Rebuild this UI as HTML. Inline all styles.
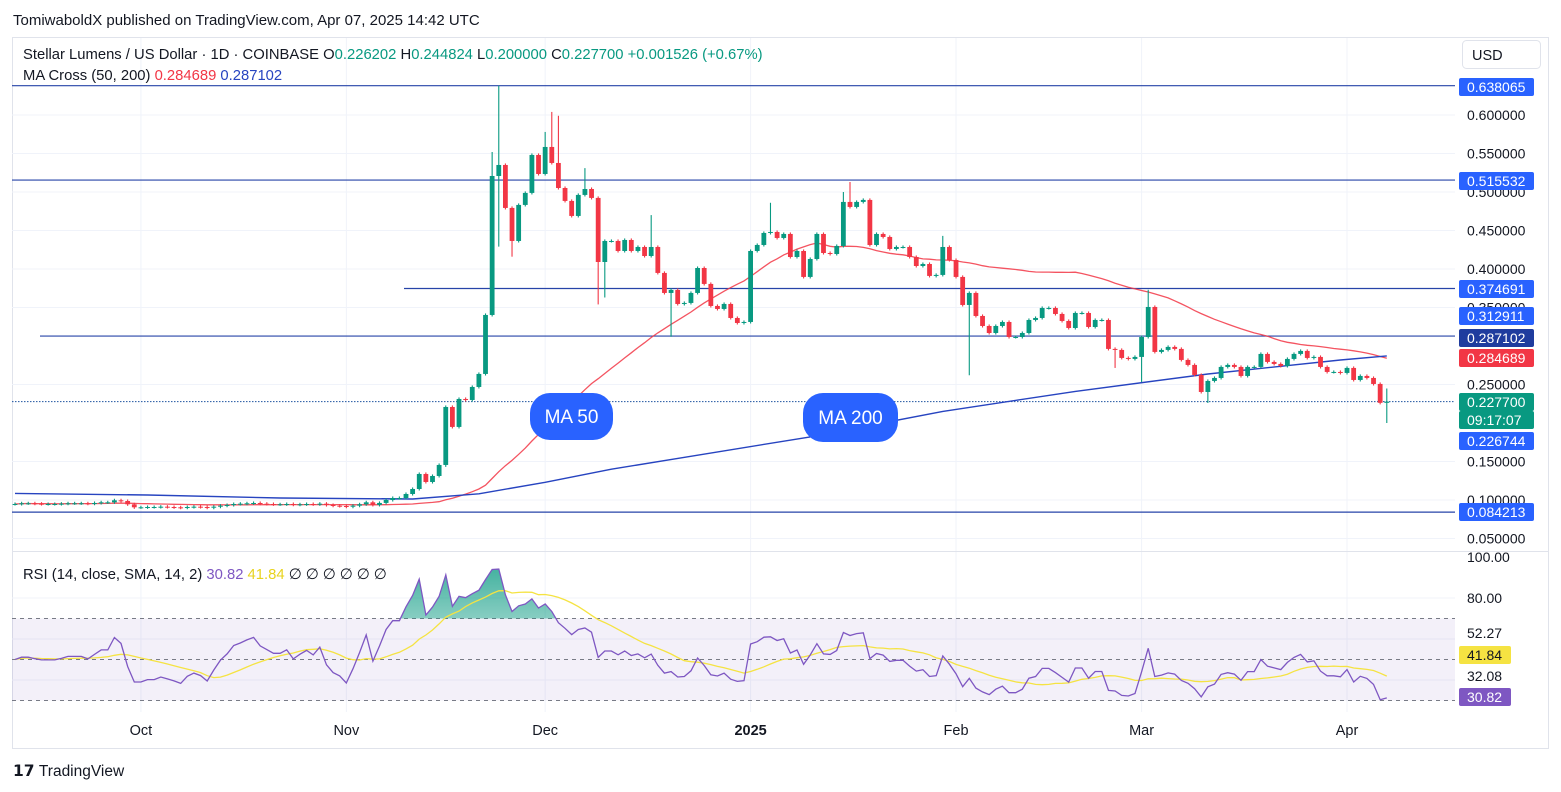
<!DOCTYPE html>
<html><head><meta charset="utf-8">
<style>
body{margin:0;background:#fff;font-family:"Liberation Sans",sans-serif;}
svg{display:block}
</style></head>
<body>
<svg id="c" width="1561" height="792" xmlns="http://www.w3.org/2000/svg" font-family="Liberation Sans, sans-serif">
<rect x="0" y="0" width="1561" height="792" fill="#fff"/>
<text x="13" y="25" font-size="15" fill="#131722">TomiwaboldX published on TradingView.com, Apr 07, 2025 14:42 UTC</text>
<rect x="12.5" y="37.5" width="1536" height="711" fill="none" stroke="#e0e3eb"/>
<g id="grid"></g>
<g id="hlines"></g>
<g id="mas"></g>
<g id="candles"></g>
<g id="rsi"></g>
<g id="axis"></g>
<g id="xaxis"></g>
<line x1="12" y1="551.5" x2="1548" y2="551.5" stroke="#e0e3eb"/>
<text x="23" y="59" font-size="14.8" fill="#131722">Stellar Lumens / US Dollar · 1D · COINBASE  <tspan>O</tspan><tspan fill="#089981">0.226202</tspan>  H<tspan fill="#089981">0.244824</tspan>  L<tspan fill="#089981">0.200000</tspan>  C<tspan fill="#089981">0.227700</tspan> <tspan fill="#089981">+0.001526 (+0.67%)</tspan></text>
<text x="23" y="80" font-size="14.8" fill="#131722">MA Cross (50, 200)  <tspan fill="#f23645">0.284689</tspan>  <tspan fill="#2744c0">0.287102</tspan></text>
<text x="23" y="579" font-size="14.8" fill="#131722">RSI (14, close, SMA, 14, 2)  <tspan fill="#7e57c2">30.82</tspan>  <tspan fill="#e8d31e">41.84</tspan>  ∅  ∅  ∅  ∅  ∅  ∅</text>
<rect x="1462.5" y="40.5" width="78" height="28" rx="4" fill="#fff" stroke="#e0e3eb"/>
<text x="1472" y="60" font-size="14.5" fill="#131722">USD</text>
<g>
<rect x="530" y="393" width="83" height="47" rx="20" fill="#2962ff"/>
<text x="571.5" y="423" font-size="19" fill="#fff" text-anchor="middle">MA 50</text></g>
<g>
<rect x="803" y="393" width="95" height="49" rx="20" fill="#2962ff"/>
<text x="850.5" y="424" font-size="19" fill="#fff" text-anchor="middle">MA 200</text></g>
<text x="13" y="776" font-size="15.5" font-weight="bold" fill="#131722">𝟭𝟳 <tspan font-weight="normal">TradingView</tspan></text>
</svg>
<script>
const closes=[0.0948,0.0957,0.0957,0.0952,0.0948,0.0948,0.0948,0.0952,0.0957,0.0957,0.0957,0.0952,0.0961,0.0970,0.0970,0.0996,0.0987,0.0944,0.0905,0.0905,0.0909,0.0909,0.0913,0.0909,0.0905,0.0900,0.0909,0.0913,0.0909,0.0900,0.0913,0.0926,0.0935,0.0948,0.0952,0.0957,0.0961,0.0952,0.0948,0.0944,0.0944,0.0948,0.0939,0.0944,0.0948,0.0944,0.0952,0.0935,0.0926,0.0922,0.0913,0.0926,0.0944,0.0970,
0.0936,0.0962,0.1000,0.1026,0.1026,0.1078,0.1143,0.1338,0.1234,0.1312,0.1455,0.2208,0.1949,0.2312,0.2299,0.2468,0.2637,0.3403,0.5208,0.5351,0.4793,0.4364,0.4832,0.4988,0.5481,0.5234,0.5585,0.5377,0.5052,0.4884,0.4689,0.4962,0.5039,0.4923,0.4091,0.4364,0.4364,0.4234,0.4377,
0.4234,0.4286,0.4169,0.4286,0.3949,0.3689,0.3728,0.3546,0.3559,0.3689,0.4013,0.3806,0.3520,0.3481,0.3546,0.3364,0.3299,0.3312,0.4234,0.4312,0.4468,0.4481,0.4403,0.4455,0.4156,0.4234,0.3897,0.4130,0.4455,0.4208,0.4195,0.4299,0.4871,0.4806,0.4871,0.4897,0.4312,0.4455,0.4416,0.4260,0.4286,0.4286,0.4156,0.4039,0.4065,0.3910,0.3923,0.4286,0.4117,0.3897,0.3533,0.3689,0.3390,0.3260,0.3169,
0.3260,0.3312,0.3117,0.3117,0.3169,0.3338,0.3364,0.3494,0.3494,0.3416,0.3325,0.3234,0.3429,0.3429,0.3247,0.3338,0.3338,0.2962,0.2949,0.2845,0.2832,0.2858,0.3117,0.3507,0.2923,0.2949,0.2988,0.2962,0.2819,0.2754,0.2624,0.2403,0.2546,0.2585,0.2728,0.2754,0.2728,0.2611,0.2728,0.2728,0.2897,0.2793,0.2767,0.2741,0.2832,0.2897,0.2936,0.2845,0.2858,0.2728,0.2663,0.2663,0.2650,0.2715,0.2559,0.2611,0.2585,0.2507,0.2262,0.2277];
const highIdx=[72,73,80,81,82,86,96,114,125,126,140,171,207];
const highVals=[0.552,0.638,0.578,0.604,0.599,0.531,0.470,0.486,0.500,0.513,0.443,0.373,0.2448];
const lowIdx=[65,73,75,88,89,99,144,166,170,180,207];
const lowVals=[0.143,0.429,0.416,0.354,0.363,0.312,0.262,0.2715,0.2533,0.226,0.200];
const ma200Idx=[0,20,40,60,70,80,90,100,120,140,160,180,200,207];
const ma200Vals=[0.1086,0.1065,0.1026,0.1013,0.108,0.1230,0.140,0.154,0.182,0.2150,0.2410,0.2637,0.2818,0.2871];
const priceTicks=[0.6,0.55,0.5,0.45,0.4,0.35,0.25,0.15,0.1,0.05];
const dateLabels=["Oct","Nov","Dec","2025","Feb","Mar","Apr"];
const dateIdx=[19,50,80,111,142,170,201];
const hLevels=[0.638065,0.515532,0.374691,0.312911,0.084213];
const hStartX=[12,12,404,40,12];
const rsiLevels=[70,50,30];

const NS="http://www.w3.org/2000/svg";
const X=i=>15+i*6.627;
const Y=p=>115+(0.6-p)*770;
const YR=v=>557+(100-v)*2.05;
function mk(tag,attrs,parent){const e=document.createElementNS(NS,tag);for(const k in attrs)e.setAttribute(k,attrs[k]);parent.appendChild(e);return e;}
const G=id=>document.getElementById(id);

const grid=G('grid');
priceTicks.forEach(p=>{const l=mk('line',{x1:12,x2:1455,y1:Y(p),y2:Y(p),stroke:'#f0f3fa'},grid);

});
[80,60,40].forEach(v=>{const l=mk('line',{x1:12,x2:1455,y1:YR(v),y2:YR(v),stroke:'#f0f3fa'},grid);

});
dateIdx.forEach(i=>{const l=mk('line',{x1:X(i),x2:X(i),y1:38,y2:712,stroke:'#f0f3fa'},grid);

});

const hl=G('hlines');
hLevels.forEach((p,k)=>{const l=mk('line',{x1:hStartX[k],x2:1455,y1:Y(p),y2:Y(p),stroke:'#2744a8','stroke-width':1.2},hl);

});
const last=closes[closes.length-1];
const cl=mk('line',{x1:12,x2:1455,y1:Y(last),y2:Y(last),stroke:'#1e53a0','stroke-dasharray':'1.5 1.5'},hl);



const mas=G('mas');
let p50=[];
for(let i=0;i<closes.length;i++){const s=Math.max(0,i-49);let sum=0;for(let j=s;j<=i;j++)sum+=closes[j];p50.push(X(i).toFixed(1)+','+Y(sum/(i-s+1)).toFixed(1));}
const m50=mk('polyline',{points:p50.join(' '),fill:'none',stroke:'#f23645','stroke-width':1.3,'stroke-opacity':0.85},mas);


const p200=ma200Idx.map((i,k)=>X(i).toFixed(1)+','+Y(ma200Vals[k]).toFixed(1));
const m200=mk('polyline',{points:p200.join(' '),fill:'none',stroke:'#2744c0','stroke-width':1.4,'stroke-linejoin':'round'},mas);



const cg=G('candles');
for(let i=0;i<closes.length;i++){
 const o=i?closes[i-1]:closes[0], c=closes[i];
 let h=Math.max(o,c)+0.002, l=Math.min(o,c)-0.002;
 const hi=highIdx.indexOf(i); if(hi>=0)h=highVals[hi];
 const li=lowIdx.indexOf(i); if(li>=0)l=lowVals[li];
 if(i===207){h=0.244824;l=0.2;}
 const col=c>=o?'#089981':'#f23645';
 const g=mk('g',{},cg);
 
 
 mk('line',{x1:X(i),x2:X(i),y1:Y(h),y2:Y(l),stroke:col,'stroke-width':1.1},g);
 const yt=Y(Math.max(o,c)),yb=Y(Math.min(o,c));
 mk('rect',{x:X(i)-2.4,y:yt,width:4.8,height:Math.max(1,yb-yt),fill:col},g);
}

const rg=G('rsi');
const band=mk('rect',{x:12,y:YR(70),width:1443,height:YR(30)-YR(70),fill:'#7e57c2','fill-opacity':0.09},rg);


rsiLevels.forEach(v=>{const l=mk('line',{x1:12,x2:1455,y1:YR(v),y2:YR(v),stroke:'#787b86','stroke-dasharray':'4 4'},rg);

});
let ag=0.0015,al=0.0015,rsi=[50];
for(let i=1;i<closes.length;i++){const d=closes[i]-closes[i-1];ag=(ag*13+Math.max(d,0))/14;al=(al*13+Math.max(-d,0))/14;rsi.push(100-100/(1+ag/al));}
const rpts=rsi.map((v,i)=>X(i).toFixed(1)+','+YR(v).toFixed(1));
const defs=mk('defs',{},rg);
const gr=mk('linearGradient',{id:'gfill',x1:0,y1:0,x2:0,y2:1},defs);
mk('stop',{offset:'0','stop-color':'#089981','stop-opacity':0.75},gr);
mk('stop',{offset:'1','stop-color':'#089981','stop-opacity':0.05},gr);
const cp=mk('clipPath',{id:'above70'},defs);
mk('rect',{x:12,y:557,width:1443,height:YR(70)-557},cp);
const ob=mk('polygon',{points:rpts.join(' ')+' '+X(rsi.length-1)+','+YR(70)+' '+X(0)+','+YR(70),fill:'url(#gfill)','clip-path':'url(#above70)'},rg);


let sm=[];
for(let i=0;i<rsi.length;i++){const s=Math.max(0,i-13);let sum=0;for(let j=s;j<=i;j++)sum+=rsi[j];sm.push(X(i).toFixed(1)+','+YR(sum/(i-s+1)).toFixed(1));}
const sl=mk('polyline',{points:sm.join(' '),fill:'none',stroke:'#f5e342','stroke-width':1.3},rg);


const rl=mk('polyline',{points:rpts.join(' '),fill:'none',stroke:'#7e57c2','stroke-width':1.3},rg);



const ax=G('axis');
priceTicks.forEach(p=>{const t=mk('text',{x:1467,y:Y(p)+5,'font-size':14,fill:'#131722'},ax);t.textContent=p.toFixed(6);

});
[[100,'100.00',557],[80,'80.00',598],[0,'52.27',633],[0,'32.08',676]].forEach(a=>{const t=mk('text',{x:1467,y:a[2]+5,'font-size':14,fill:'#131722'},ax);t.textContent=a[1];

});
const badges=[['0.638065',87,'#2962ff','#fff'],['0.515532',181,'#2962ff','#fff'],['0.374691',289,'#2962ff','#fff'],['0.312911',316,'#2962ff','#fff'],['0.287102',338,'#1f3c9e','#fff'],['0.284689',358,'#f23645','#fff'],['0.227700',402,'#089981','#fff'],['09:17:07',420,'#089981','#fff'],['0.226744',441,'#2962ff','#fff'],['0.084213',512,'#2962ff','#fff'],['41.84',655,'#f5e342','#131722'],['30.82',697,'#7e57c2','#fff']];
badges.forEach(b=>{const g=mk('g',{},ax);


const w=b[0].length>5?75:52;
mk('rect',{x:1459,y:b[1]-9,width:w,height:18,rx:2,fill:b[2]},g);
const t=mk('text',{x:1467,y:b[1]+5,'font-size':14,fill:b[3]},g);t.textContent=b[0];});

const xa=G('xaxis');
dateLabels.forEach((s,k)=>{const t=mk('text',{x:X(dateIdx[k]),y:735,'font-size':14.5,fill:'#131722','text-anchor':'middle','font-weight':s==='2025'?'bold':'normal'},xa);t.textContent=s;

});
</script>
</body></html>
